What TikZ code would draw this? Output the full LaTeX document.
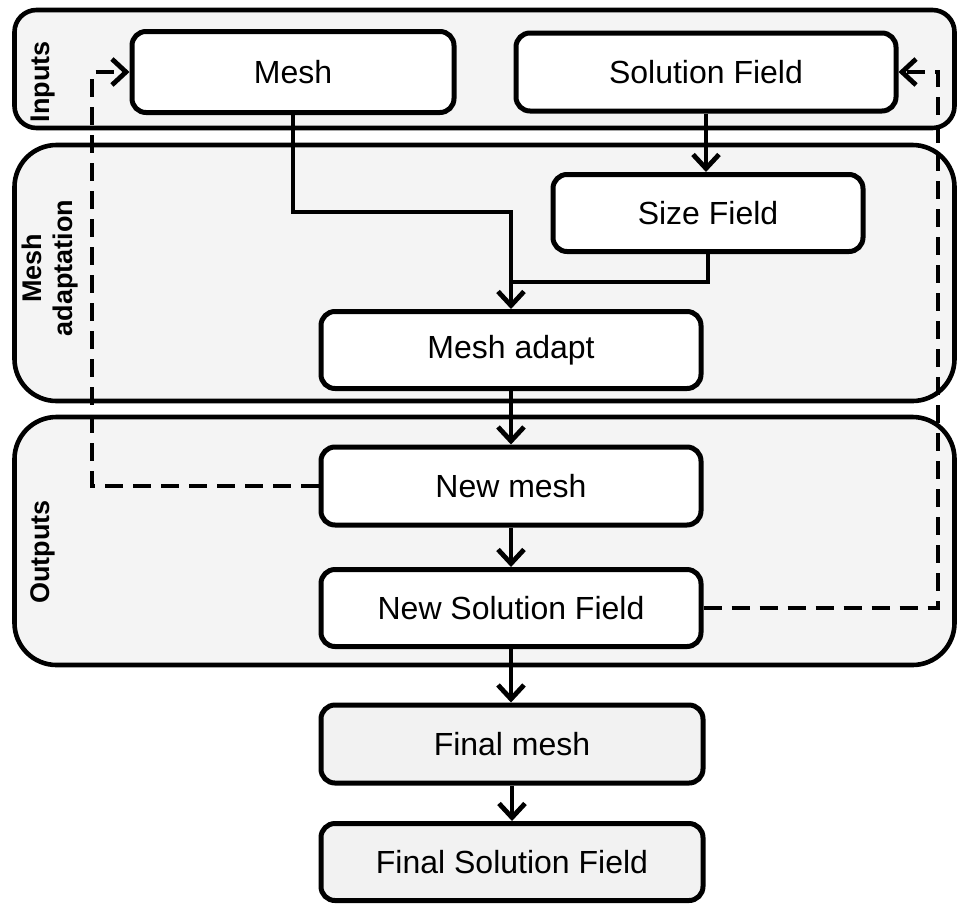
\documentclass[tikz,border=0pt]{standalone}
\usepackage{fontspec}
\setmainfont{Liberation Sans}
\usetikzlibrary{arrows.meta}
\definecolor{grp}{HTML}{F4F4F4}
\definecolor{fin}{HTML}{F2F2F2}
\begin{document}
\begin{tikzpicture}[x=1pt,y=-1pt,
 grpbox/.style={draw=black,line width=4.6pt,fill=grp,inner sep=0pt},
 stepbox/.style={draw=black,line width=5pt,fill=white,rounded corners=14pt,inner sep=0pt,
   font=\fontsize{32}{38}\selectfont},
 finbox/.style={stepbox,fill=fin},
 flow/.style={line width=4.8pt,-{Straight Barb[length=14pt,width=26pt,line width=4.8pt]}},
 plain/.style={line width=4.8pt},
 loopline/.style={flow,dash pattern=on 18pt off 10pt},
 glabel/.style={rotate=90,font=\bfseries\fontsize{27}{31}\selectfont,align=center}]
\useasboundingbox (0,0) rectangle (958,903);
% groups
\node[grpbox,rounded corners=22pt,minimum width=940pt,minimum height=118pt] (gin) at (484.5,69) {};
\node[grpbox,rounded corners=42pt,minimum width=940pt,minimum height=256pt] (gad) at (484.5,273) {};
\node[grpbox,rounded corners=42pt,minimum width=940pt,minimum height=248pt] (gout) at (484.5,541) {};
\node[glabel] (lin) at (43,82) {Inputs};
\node[glabel] (lad) at (50,268) {Mesh\\adaptation};
\node[glabel] (lout) at (43,552) {Outputs};
% steps
\node[stepbox,minimum width=322pt,minimum height=81pt] (mesh) at (293,72) {Mesh};
\node[stepbox,minimum width=380pt,minimum height=78pt] (sol) at (706,72) {Solution Field};
\node[stepbox,minimum width=310pt,minimum height=77pt] (size) at (708,213) {Size Field};
\node[stepbox,minimum width=380pt,minimum height=77pt] (adapt) at (511,350) {Mesh adapt};
\node[stepbox,minimum width=380pt,minimum height=78pt] (newmesh) at (511,486) {New mesh};
\node[stepbox,minimum width=380pt,minimum height=77pt] (newsol) at (511,608) {New Solution Field};
\node[finbox,minimum width=382pt,minimum height=78pt] (finmesh) at (512,744) {Final mesh};
\node[finbox,minimum width=382pt,minimum height=77pt] (finsol) at (512,862) {Final Solution Field};
% connectors
\coordinate (j1) at (511,212);
\coordinate (j2) at (511,282);
\draw[flow] (mesh.south) |- (j1) -- (adapt.north);
\draw[plain] (size.south) |- (j2);
\draw[flow] (sol.south) -- (sol.south |- size.north);
\draw[flow] (adapt.south) -- (newmesh.north);
\draw[flow] (newmesh.south) -- (newsol.north);
\draw[flow] (newsol.south) -- (newsol.south |- finmesh.north);
\draw[flow] (finmesh.south) -- (finsol.north);
\coordinate (l2) at (92,72);
\coordinate (r2) at (938,72);
\draw[loopline] (newmesh.west) -| (l2) -- (mesh.west);
\draw[loopline] (newsol.east) -| (r2) -- (sol.east);
\end{tikzpicture}
\end{document}
